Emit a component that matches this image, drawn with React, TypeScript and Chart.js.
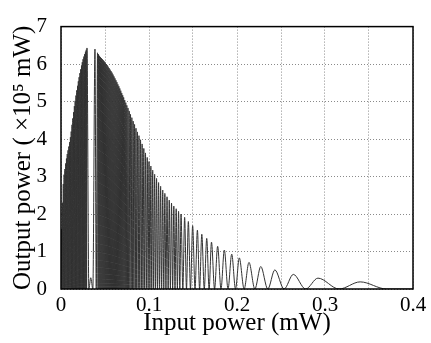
import React, { useEffect, useRef } from 'react';
import { Chart, registerables } from 'chart.js';

Chart.register(...registerables);

// Peak positions (input power, mW)
const peakX = [
  0.0008, 0.0017, 0.0026, 0.0035, 0.0044, 0.0053, 0.0062, 0.0071, 0.008, 0.0089,
  0.0098, 0.0107, 0.0116, 0.0125, 0.0134, 0.0143, 0.0152, 0.0161, 0.017, 0.0179,
  0.0188, 0.0197, 0.0206, 0.0215, 0.0224, 0.0233, 0.0242, 0.0251, 0.026, 0.0269,
  0.0278, 0.0287, 0.0295,
  0.0338,
  0.0386, 0.0415, 0.0426, 0.0437, 0.0448, 0.0459, 0.047, 0.0481, 0.0492, 0.0503,
  0.0514, 0.0525, 0.0536, 0.0547, 0.0558, 0.0569, 0.058, 0.0591, 0.0602, 0.0613,
  0.0624, 0.0635, 0.0646, 0.0657, 0.0668, 0.0679, 0.069, 0.0701, 0.0712, 0.0724,
  0.0736, 0.0748, 0.0761, 0.0775, 0.079, 0.0805, 0.082, 0.0836, 0.0852, 0.0869,
  0.0886, 0.0904, 0.0922, 0.0941, 0.096, 0.098, 0.1, 0.1021, 0.1042, 0.1064,
  0.1086, 0.1109, 0.1132, 0.1156, 0.118, 0.1205, 0.123, 0.1256, 0.1282, 0.1309,
  0.1336, 0.1364, 0.1405, 0.1447, 0.1496, 0.155, 0.16, 0.1656, 0.171, 0.178,
  0.1856, 0.194, 0.2026, 0.2136, 0.227, 0.243, 0.264, 0.292, 0.34,
];

// Peak heights (output power, x10^5 mW)
const peakY = [
  1.6, 2.3, 2.8, 3.05, 3.2, 3.35, 3.48, 3.6, 3.7, 3.8,
  3.92, 4.05, 4.2, 4.38, 4.55, 4.72, 4.88, 5.02, 5.16, 5.3,
  5.42, 5.54, 5.65, 5.76, 5.86, 5.96, 6.05, 6.13, 6.2, 6.27,
  6.33, 6.38, 6.43,
  0.3,
  6.4, 6.3, 6.26, 6.22, 6.19, 6.16, 6.13, 6.1, 6.07, 6.04,
  6.0, 5.97, 5.93, 5.89, 5.85, 5.81, 5.77, 5.72, 5.67, 5.62,
  5.57, 5.52, 5.46, 5.41, 5.35, 5.29, 5.23, 5.17, 5.11, 5.04,
  4.97, 4.9, 4.83, 4.75, 4.66, 4.57, 4.48, 4.39, 4.29, 4.19,
  4.09, 3.98, 3.87, 3.75, 3.63, 3.51, 3.4, 3.28, 3.17, 3.06,
  2.95, 2.84, 2.74, 2.64, 2.55, 2.46, 2.37, 2.29, 2.21, 2.14,
  2.07, 2.0, 1.91, 1.8, 1.69, 1.57, 1.46, 1.35, 1.25, 1.14,
  1.04, 0.93, 0.83, 0.71, 0.6, 0.51, 0.39, 0.29, 0.19,
];

// Curve start and end where the output is zero
const headX = [0];
const tailX = [0.37, 0.4];

const xTickLabels = ['0', '0.1', '0.2', '0.3', '0.4'];
const yTickLabels = ['0', '1', '2', '3', '4', '5', '6', '7'];

const FONT = '"Liberation Serif", "Times New Roman", serif';

function buildPoints() {
  const pts: { x: number; y: number }[] = [];
  headX.forEach((x) => pts.push({ x, y: 0 }));
  for (let i = 0; i < peakX.length; i++) {
    pts.push({ x: peakX[i], y: peakY[i] });
    if (i < peakX.length - 1) pts.push({ x: (peakX[i] + peakX[i + 1]) / 2, y: 0 });
  }
  tailX.forEach((x) => pts.push({ x, y: 0 }));
  return pts;
}

const framePlugin = {
  id: 'frame',
  afterDatasetsDraw(chart: any) {
    const { ctx, chartArea } = chart;
    const { left, top, right, bottom } = chartArea;
    ctx.save();
    ctx.strokeStyle = '#000';
    ctx.lineWidth = 1.5;
    ctx.strokeRect(left, top, right - left, bottom - top);
    ctx.restore();
  },
};

export default function App() {
  const ref = useRef<HTMLCanvasElement | null>(null);

  useEffect(() => {
    document.body.style.margin = '0';
    const canvas = ref.current;
    if (!canvas) return;
    const chart = new Chart(canvas, {
      type: 'line',
      data: {
        datasets: [
          {
            data: buildPoints(),
            borderColor: '#333333',
            borderWidth: 1,
            pointRadius: 0,
            fill: false,
            cubicInterpolationMode: 'monotone',
          },
        ],
      },
      options: {
        animation: false,
        responsive: false,
        maintainAspectRatio: false,
        layout: { padding: { top: 13, right: 18, left: 0, bottom: 0 } },
        plugins: {
          legend: { display: false },
          tooltip: { enabled: false },
        },
        scales: {
          x: {
            type: 'linear',
            min: 0,
            max: 0.4,
            afterFit: (s: any) => {
              s.height = 54;
            },
            ticks: {
              stepSize: 0.05,
              autoSkip: false,
              maxRotation: 0,
              padding: 4,
              color: '#000',
              font: { family: FONT, size: 21 },
              callback: (v: any) => {
                const i = Math.round(Number(v) * 20);
                return i % 2 === 0 ? xTickLabels[i / 2] : '';
              },
            },
            grid: { color: '#8a8a8a', lineWidth: 1, drawTicks: false },
            border: { display: false, dash: [1, 2] },
            title: {
              display: true,
              text: 'Input power (mW)',
              color: '#000',
              font: { family: FONT, size: 25 },
              padding: { top: 0, bottom: 5 },
            },
          },
          y: {
            type: 'linear',
            min: 0,
            max: 7,
            afterFit: (s: any) => {
              s.width = 61;
            },
            ticks: {
              stepSize: 1,
              padding: 14,
              color: '#000',
              font: { family: FONT, size: 21 },
              callback: (v: any) => yTickLabels[Math.round(Number(v))] ?? '',
            },
            grid: { color: '#8a8a8a', lineWidth: 1, drawTicks: false },
            border: { display: false, dash: [1, 2] },
            title: {
              display: true,
              text: 'Output power ( \u00d710\u2075 mW)',
              color: '#000',
              font: { family: FONT, size: 25 },
              padding: { top: 8, bottom: 0 },
            },
          },
        },
      },
      plugins: [framePlugin],
    });
    return () => chart.destroy();
  }, []);

  return (
    <div style={{ position: 'fixed', left: 0, top: 0, width: 431, height: 343, background: '#fff' }}>
      <canvas ref={ref} width={431} height={343} style={{ display: 'block' }} />
    </div>
  );
}
